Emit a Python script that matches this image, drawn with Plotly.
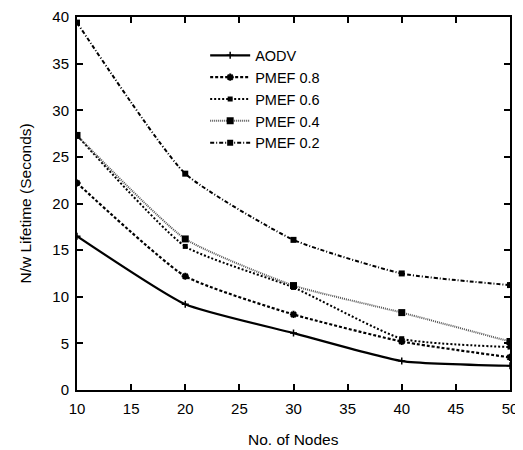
import plotly.graph_objects as go

nodes = [10, 20, 30, 40, 50]
aodv = [16.5, 9.2, 6.1, 3.1, 2.6]
pmef08 = [22.2, 12.2, 8.1, 5.2, 3.5]
pmef06 = [27.3, 15.4, 11.0, 5.5, 4.6]
pmef04 = [27.3, 16.2, 11.2, 8.3, 5.2]
pmef02 = [39.4, 23.2, 16.1, 12.5, 11.25]

series = [
    ("AODV", aodv, dict(color="black", width=2.2, dash="solid"), dict(symbol="cross-thin", size=5, color="black", line=dict(width=1.5, color="black"))),
    ("PMEF 0.8", pmef08, dict(color="black", width=2.2, dash="3px,2px"), dict(symbol="asterisk", size=6, color="black", line=dict(width=2, color="black"))),
    ("PMEF 0.6", pmef06, dict(color="black", width=2.0, dash="2px,2px"), dict(symbol="square", size=5, color="black")),
    ("PMEF 0.4", pmef04, dict(color="#555555", width=2.0, dash="1px,1px"), dict(symbol="square", size=7, color="black")),
    ("PMEF 0.2", pmef02, dict(color="black", width=2.0, dash="4px,2px,1px,2px"), dict(symbol="square", size=6, color="black")),
]

FONT = "Liberation Sans, Arial, sans-serif"

fig = go.Figure()
for name, vals, ln, mk in series:
    fig.add_trace(go.Scatter(x=nodes, y=vals, name=name, mode="lines+markers",
                             line=dict(shape="spline", smoothing=0.5, **ln), marker=mk))

axis_common = dict(showline=True, linecolor="black", linewidth=2, mirror="ticks",
                   ticks="inside", ticklen=6, tickwidth=1.5, tickcolor="black",
                   showgrid=False, zeroline=False, automargin=False,
                   tickfont=dict(family=FONT, size=15, color="black"))

fig.update_layout(
    width=515, height=442,
    margin=dict(l=69, r=13, t=9, b=60),
    plot_bgcolor="white", paper_bgcolor="white",
    font=dict(family=FONT, color="black", size=14),
    xaxis=dict(range=[10, 50], dtick=5, ticklabelstandoff=4, **axis_common),
    yaxis=dict(range=[0, 40], dtick=5, ticklabelstandoff=3, **axis_common),
    legend=dict(x=0.296, y=0.94, xanchor="left", yanchor="top", bgcolor="rgba(0,0,0,0)",
                font=dict(size=14.5), tracegroupgap=0, itemwidth=40),
    annotations=[
        dict(text="No. of Nodes", xref="paper", yref="paper", x=0.5, y=-0.134,
             xanchor="center", yanchor="middle", showarrow=False, font=dict(size=15.5)),
        dict(text="N/w Lifetime (Seconds)", xref="paper", yref="paper", x=-0.12, y=0.5,
             xanchor="center", yanchor="middle", textangle=-90, showarrow=False, font=dict(size=15.5)),
    ],
)

fig.write_html("out.html")
